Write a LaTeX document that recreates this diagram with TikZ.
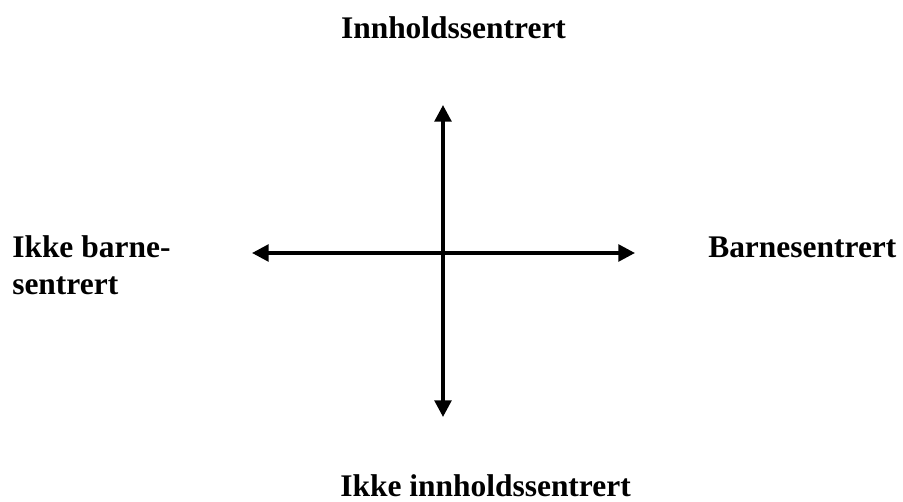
\documentclass[tikz,border=0pt]{standalone}
\usepackage{fontspec}
\setmainfont{Liberation Serif}
\usetikzlibrary{arrows.meta}

\begin{document}
\begin{tikzpicture}[
  x=0.75pt, y=-0.75pt,
  line join=round,
  axis/.style={line width=2.7pt, {Triangle[length=12.5pt,width=12.5pt]}-{Triangle[length=12.5pt,width=12.5pt]}},
  lbl/.style={font=\fontsize{23.6}{27.75}\selectfont\bfseries, inner sep=0pt},
]
\useasboundingbox (0,0) rectangle (903,502);

% ── the two axes ──────────────────────────────────────────────────────────
\coordinate (mid) at (443,253);
\coordinate (top) at (443,105);
\coordinate (bot) at (443,417);
\coordinate (lft) at (252,253);
\coordinate (rgt) at (635,253);

\draw[axis] (bot) -- (top);
\draw[axis] (lft) -- (rgt);

% ── the four ends ─────────────────────────────────────────────────────────
\node[lbl, anchor=base] (inn) at (453.5,39) {Innholdssentrert};
\node[lbl, anchor=base west] (ikkeinn) at (340,496) {Ikke innholdssentrert};
\node[lbl, anchor=base west, align=left] (ikkebarn) at (12,295) {Ikke barne-\\sentrert};
\node[lbl, anchor=base west] (barn) at (708,258) {Barnesentrert};

\end{tikzpicture}
\end{document}
